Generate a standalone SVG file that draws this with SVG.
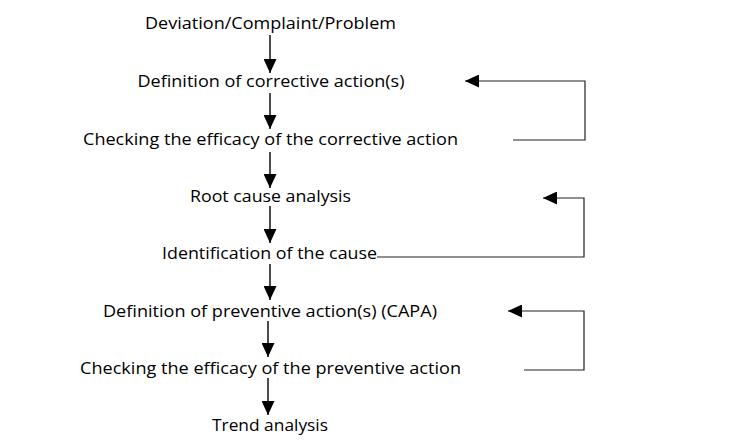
<svg xmlns="http://www.w3.org/2000/svg" width="737" height="443" viewBox="0 0 737 443">
<style>
  .lbl { font-family: "Open Sans", "Noto Sans", "DejaVu Sans", sans-serif; font-size: 17px; fill: #000; text-anchor: middle; }
  .flow { fill: none; stroke: #000; stroke-width: 1.4; marker-end: url(#ah); }
  .loop { fill: none; stroke: #222; stroke-width: 1.2; marker-end: url(#ah); }
</style>
<defs>
  <marker id="ah" markerUnits="userSpaceOnUse" markerWidth="14" markerHeight="13" refX="14" refY="6.5" orient="auto">
    <path d="M0,0 L14,6.5 L0,13 Z" fill="#000"/>
  </marker>
</defs>
<rect width="737" height="443" fill="#fff"/>
<g id="connectors">
  <line class="flow" x1="270" y1="35" x2="270" y2="73"/>
  <line class="flow" x1="270" y1="93" x2="270" y2="129"/>
  <line class="flow" x1="270" y1="152" x2="270" y2="188"/>
  <line class="flow" x1="270" y1="206" x2="270" y2="243"/>
  <line class="flow" x1="270" y1="264" x2="270" y2="300"/>
  <line class="flow" x1="268" y1="321" x2="268" y2="357"/>
  <line class="flow" x1="268" y1="378" x2="268" y2="415"/>
  <polyline class="loop" points="513,140 585,140 585,81 465,81"/>
  <polyline class="loop" points="377,257 584,257 584,198 543,198"/>
  <polyline class="loop" points="524,370 584,370 584,311 508,311"/>
</g>
<g id="n1"><text class="lbl" x="270.5" y="29" textLength="251" lengthAdjust="spacingAndGlyphs">Deviation/Complaint/Problem</text></g>
<g id="n2"><text class="lbl" x="271" y="87" textLength="267" lengthAdjust="spacingAndGlyphs">Definition of corrective action(s)</text></g>
<g id="n3"><text class="lbl" x="270.5" y="145" textLength="375" lengthAdjust="spacingAndGlyphs">Checking the efficacy of the corrective action</text></g>
<g id="n4"><text class="lbl" x="270.5" y="202" textLength="161" lengthAdjust="spacingAndGlyphs">Root cause analysis</text></g>
<g id="n5"><text class="lbl" x="269.5" y="259" textLength="215" lengthAdjust="spacingAndGlyphs">Identification of the cause</text></g>
<g id="n6"><text class="lbl" x="270" y="317" textLength="334" lengthAdjust="spacingAndGlyphs">Definition of preventive action(s) (CAPA)</text></g>
<g id="n7"><text class="lbl" x="270.5" y="374" textLength="381" lengthAdjust="spacingAndGlyphs">Checking the efficacy of the preventive action</text></g>
<g id="n8"><text class="lbl" x="270" y="431" textLength="116" lengthAdjust="spacingAndGlyphs">Trend analysis</text></g>
</svg>
